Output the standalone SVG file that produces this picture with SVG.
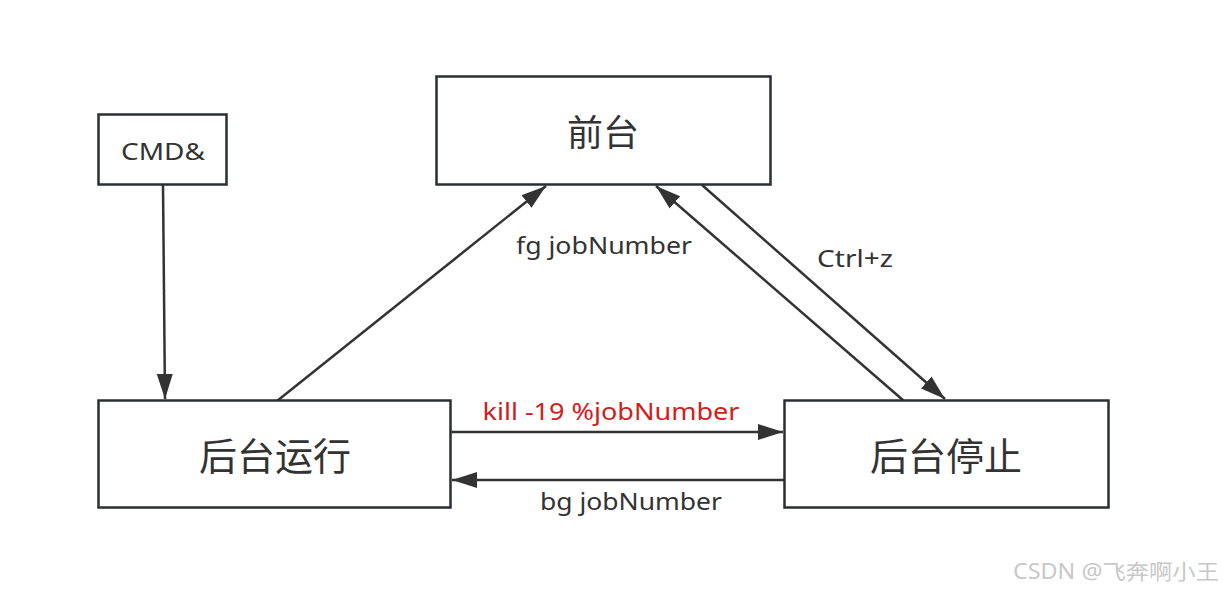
<svg xmlns="http://www.w3.org/2000/svg" width="1223" height="589" viewBox="0 0 1223 589">
<style>
.box{fill:#fff;stroke:#2b2f33;stroke-width:2.5}
.edge{fill:none;stroke:#333;stroke-width:2.5}
.t{font-family:"Noto Sans","Noto Sans CJK SC",sans-serif;fill:#333;text-anchor:middle}
.lbl{font-family:"Noto Sans","Noto Sans CJK SC",sans-serif;fill:#333;font-size:23px;text-anchor:middle}
</style>
<defs>
<marker id="arr" markerUnits="userSpaceOnUse" markerWidth="26" markerHeight="18" viewBox="0 0 26 18" refX="25" refY="9" orient="auto">
<path d="M0,1 L25,9 L0,17 Z" fill="#333"/>
</marker>
</defs>
<rect width="1223" height="589" fill="#fff"/>
<g id="connectors">
<line class="edge" x1="163" y1="185" x2="165" y2="399" marker-end="url(#arr)"/>
<line class="edge" x1="277" y1="401" x2="546" y2="186" marker-end="url(#arr)"/>
<line class="edge" x1="904" y1="401" x2="656" y2="186" marker-end="url(#arr)"/>
<line class="edge" x1="702" y1="185" x2="945" y2="399" marker-end="url(#arr)"/>
<line class="edge" x1="451" y1="432" x2="783" y2="432" marker-end="url(#arr)"/>
<line class="edge" x1="784" y1="480" x2="452" y2="480" marker-end="url(#arr)"/>
<text class="lbl" x="604" y="254" textLength="176" lengthAdjust="spacingAndGlyphs">fg jobNumber</text>
<text class="lbl" x="855" y="267" textLength="76" lengthAdjust="spacingAndGlyphs">Ctrl+z</text>
<text class="lbl" x="611" y="420" style="fill:#d0201a" textLength="257" lengthAdjust="spacingAndGlyphs">kill -19 %jobNumber</text>
<text class="lbl" x="631" y="510" textLength="182" lengthAdjust="spacingAndGlyphs">bg jobNumber</text>
</g>
<g id="node-cmd">
<rect class="box" x="98.5" y="114.5" width="128" height="70"/>
<text class="t" x="163" y="160" font-size="23" textLength="84" lengthAdjust="spacingAndGlyphs">CMD&amp;</text>
</g>
<g id="node-foreground">
<rect class="box" x="436.5" y="76.5" width="334" height="108"/>
<text class="t" x="603" y="146" font-size="36">前台</text>
</g>
<g id="node-bg-running">
<rect class="box" x="98.5" y="400.5" width="352" height="107"/>
<text class="t" x="275" y="470" font-size="38">后台运行</text>
</g>
<g id="node-bg-stopped">
<rect class="box" x="784.5" y="400.5" width="324" height="107"/>
<text class="t" x="946" y="470" font-size="38">后台停止</text>
</g>
<text x="1116" y="579" font-family="'Noto Sans','Noto Sans CJK SC',sans-serif" font-size="21" fill="#c8c8c8" text-anchor="middle" textLength="206" lengthAdjust="spacingAndGlyphs">CSDN @飞奔啊小王</text>
</svg>
